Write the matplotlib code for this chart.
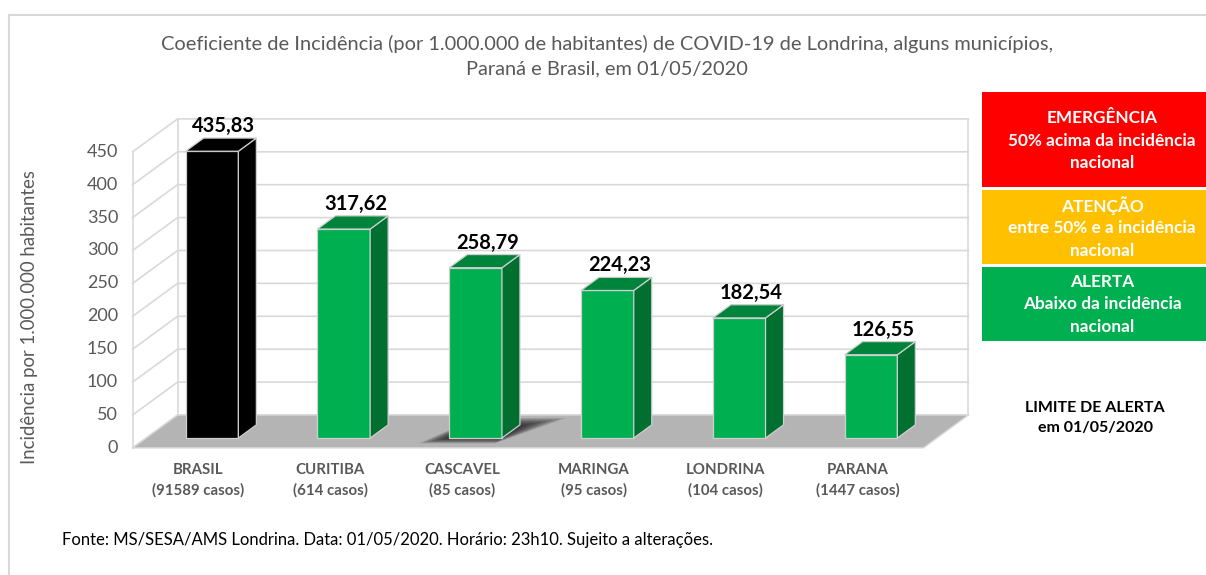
import matplotlib.pyplot as plt
from matplotlib.patches import Polygon, Rectangle

plt.rcParams['font.family'] = ['Lato', 'DejaVu Sans']

categorias = ['BRASIL', 'CURITIBA', 'CASCAVEL', 'MARINGA', 'LONDRINA', 'PARANA']
casos = ['(91589 casos)', '(614 casos)', '(85 casos)', '(95 casos)', '(104 casos)', '(1447 casos)']
incidencia = [435.83, 317.62, 258.79, 224.23, 182.54, 126.55]
rotulos = ['435,83', '317,62', '258,79', '224,23', '182,54', '126,55']
yticks = [0, 50, 100, 150, 200, 250, 300, 350, 400, 450]

# deslocamento "3D" (profundidade 1 em unidades de dados)
DX, DY = 0.3414, 50.0
LARG = 0.4
FRENTE, FUNDO, PROF_BARRA = -0.3, 0.7, 0.4
CINZA_GRADE = '#d9d9d9'
CINZA_TEXTO = '#595959'


def p(x, y, d):
    return (x + d * DX, y + d * DY)


def main():
    fig = plt.figure(figsize=(12.06, 5.75), dpi=100)

    # camada de fundo em pixels (moldura, título, legenda)
    deco = fig.add_axes([0, 0, 1, 1], zorder=0)
    deco.set_xlim(0, 1206)
    deco.set_ylim(575, 0)
    deco.axis('off')
    deco.plot([9, 9], [575, 15], color=CINZA_GRADE, lw=1.5)
    deco.plot([9, 1206], [15, 15], color=CINZA_GRADE, lw=1.5)

    deco.text(607, 44, 'Coeficiente de Incidência (por 1.000.000 de habitantes) de COVID-19 de Londrina, alguns municípios,',
              ha='center', va='center', fontsize=14.4, color=CINZA_TEXTO)
    deco.text(607, 69, 'Paraná e Brasil, em 01/05/2020',
              ha='center', va='center', fontsize=14.4, color=CINZA_TEXTO)
    deco.text(30, 317, 'Incidência por 1.000.000 habitantes', rotation=90,
              ha='center', va='center', fontsize=13.4, color=CINZA_TEXTO)

    caixas = [
        (92, 95, '#ff0000', ['EMERGÊNCIA', '50% acima da incidência', 'nacional'], [118, 141, 163]),
        (190, 74, '#ffc000', ['ATENÇÃO', 'entre 50% e a incidência', 'nacional'], [206, 228, 251]),
        (267, 74, '#00b050', ['ALERTA', 'Abaixo da incidência', 'nacional'], [282, 304, 327]),
    ]
    for y0, h, cor, linhas, ys in caixas:
        deco.add_patch(Rectangle((982, y0), 240, h, color=cor, lw=0))
        for txt, yy in zip(linhas, ys):
            deco.text(1102, yy, txt, ha='center', va='center', fontsize=12.4,
                      fontweight='bold', color='white')
    deco.text(1095, 408, 'LIMITE DE ALERTA', ha='center', va='center',
              fontsize=11.5, fontweight='bold', color='black')
    deco.text(1095, 428, 'em 01/05/2020', ha='center', va='center',
              fontsize=11.5, fontweight='bold', color='black')
    deco.text(62, 540, 'Fonte: MS/SESA/AMS Londrina. Data: 01/05/2020. Horário: 23h10. Sujeito a alterações.',
              ha='left', va='center', fontsize=12, color='black')

    # gráfico principal
    ax = fig.add_axes([0.0995, 0.1304, 0.7214, 0.6957], zorder=1)
    ax.set_facecolor('none')
    ax.set_xlim(-0.698, 5.903)
    ax.set_ylim(-94.2, 513.7)
    ax.axis('off')

    x = list(range(len(categorias)))
    xa, xb = -0.5, len(categorias) - 0.5

    # grade nas paredes
    for t in yticks:
        a = p(xa, t, FRENTE)
        b = p(xa, t, FUNDO)
        c = p(xb, t, FUNDO)
        ax.plot([a[0], b[0], c[0]], [a[1], b[1], c[1]], color=CINZA_GRADE, lw=1.2, zorder=1)
        ax.text(a[0] - 0.11, a[1], str(t), ha='right', va='center',
                fontsize=13, color=CINZA_TEXTO)
    for xx, d in [(xa, FRENTE), (xa, FUNDO), (xb, FUNDO)]:
        a = p(xx, 0, d)
        b = p(xx, yticks[-1], d)
        ax.plot([a[0], b[0]], [a[1], b[1]], color=CINZA_GRADE, lw=1.2, zorder=1)

    # piso
    piso = [p(xa, 0, FRENTE), p(xb, 0, FRENTE), p(xb, 0, FUNDO), p(xa, 0, FUNDO)]
    ax.add_patch(Polygon(piso, closed=True, facecolor='#b4b4b4', edgecolor=CINZA_GRADE,
                         lw=1, zorder=2))

    # sombra sob CASCAVEL
    i = 2
    for k in range(8):
        e = 0.02 + 0.022 * k
        sombra = [p(i - LARG / 2 - e, 0, -0.02 - 0.02 * k), p(i + LARG / 2, 0, -0.02 - 0.02 * k),
                  p(i + LARG / 2 + 1.6 * e, 0, PROF_BARRA + 0.03 * k),
                  p(i - LARG / 2, 0, PROF_BARRA + 0.03 * k)]
        ax.add_patch(Polygon(sombra, closed=True, facecolor='black', alpha=0.13,
                             lw=0, zorder=2.5))

    cores = ['#000000'] + ['#00b050'] * 5
    topos = ['#000000'] + ['#00843c'] * 5
    lados = ['#000000'] + ['#006f2f'] * 5
    ax.bar(x, incidencia, width=LARG, color=cores, edgecolor='#cfcfcf', linewidth=0.9, zorder=3)
    for xi, v, ct, cl, rot in zip(x, incidencia, topos, lados, rotulos):
        l, r = xi - LARG / 2, xi + LARG / 2
        lado = [(r, 0), (r, v), p(r, v, PROF_BARRA), p(r, 0, PROF_BARRA)]
        topo = [(l, v), (r, v), p(r, v, PROF_BARRA), p(l, v, PROF_BARRA)]
        ax.add_patch(Polygon(lado, closed=True, facecolor=cl, edgecolor='#cfcfcf', lw=0.9, zorder=3))
        ax.add_patch(Polygon(topo, closed=True, facecolor=ct, edgecolor='#cfcfcf', lw=0.9, zorder=3))
        ax.text(xi + 0.09, v + PROF_BARRA * DY + 3, rot, ha='center', va='bottom',
                fontsize=14.5, fontweight='bold', color='black')

    for xi, cat, cs in zip(x, categorias, casos):
        xc = xi + FRENTE * DX
        ax.text(xc, -48.6, cat, ha='center', va='center', fontsize=10.8,
                fontweight='bold', color=CINZA_TEXTO)
        ax.text(xc, -79, cs, ha='center', va='center', fontsize=10.8,
                fontweight='bold', color=CINZA_TEXTO)

    fig.savefig('out.png', dpi=100)


if __name__ == "__main__":
    main()
